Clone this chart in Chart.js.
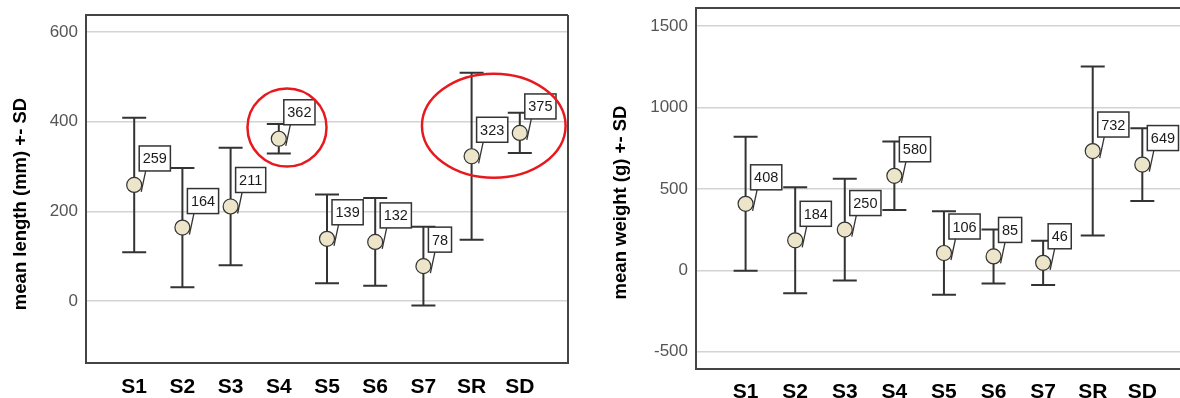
<!DOCTYPE html>
<html>
<head>
<meta charset="utf-8">
<script src="https://cdn.jsdelivr.net/npm/chart.js@4.4.1/dist/chart.umd.min.js"></script>
<style>
html,body{margin:0;padding:0;background:#fff;}
#wrap{position:relative;width:1180px;height:398px;overflow:hidden;}
#wrap canvas{position:absolute;top:0;}
#lengthChart{left:0;}
#weightChart{left:590px;}
</style>
</head>
<body>
<div id="wrap">
  <canvas id="lengthChart" width="590" height="398"></canvas>
  <canvas id="weightChart" width="590" height="398"></canvas>
</div>
<script>
const groups=["S1","S2","S3","S4","S5","S6","S7","SR","SD"];

const lengthMean=[259,164,211,362,139,132,78,323,375];
const lengthSD=[150,133,131,33,99,98,88,186,45];
const lengthTicks=[0,200,400,600];

const weightMean=[408,184,250,580,106,85,46,732,649];
const weightSD=[411,325,312,210,256,166,136,519,223];
const weightTicks=[-500,0,500,1000,1500];

const FONT="'Liberation Sans', Arial, sans-serif";
const INK="#333";

function buildChart(id,cfg){
  const xs=groups.map((g,i)=>i+1);

  // plot frame, error bars and callout leaders go under the points
  const under={
    id:"under",
    beforeDatasetsDraw(chart){
      const {ctx,chartArea:a,scales:{x,y}}=chart;
      ctx.save();
      ctx.strokeStyle="#444";
      ctx.lineWidth=2;
      ctx.beginPath();
      ctx.moveTo(a.right,a.top);
      ctx.lineTo(a.left,a.top);
      ctx.lineTo(a.left,a.bottom);
      ctx.lineTo(a.right,a.bottom);
      if(cfg.closeRight) ctx.lineTo(a.right,a.top);
      ctx.stroke();

      ctx.strokeStyle=INK;
      ctx.lineWidth=2;
      cfg.means.forEach((m,i)=>{
        const px=x.getPixelForValue(xs[i]);
        const hi=y.getPixelForValue(m+cfg.sds[i]);
        const lo=y.getPixelForValue(m-cfg.sds[i]);
        ctx.beginPath();
        ctx.moveTo(px,hi);ctx.lineTo(px,lo);
        ctx.moveTo(px-12,hi);ctx.lineTo(px+12,hi);
        ctx.moveTo(px-12,lo);ctx.lineTo(px+12,lo);
        ctx.stroke();
      });

      ctx.lineWidth=1.3;
      cfg.means.forEach((m,i)=>{
        const px=x.getPixelForValue(xs[i]);
        const py=y.getPixelForValue(m);
        ctx.beginPath();
        ctx.moveTo(px+11.5,py-14);
        ctx.lineTo(px+7,py+7);
        ctx.stroke();
      });
      ctx.restore();
    }
  };

  // value boxes, axis title and highlight rings on top
  const over={
    id:"over",
    afterDatasetsDraw(chart){
      const {ctx,chartArea:a,scales:{x,y}}=chart;
      ctx.save();
      ctx.font="14.5px "+FONT;
      ctx.textAlign="center";
      ctx.textBaseline="middle";
      cfg.means.forEach((m,i)=>{
        const px=x.getPixelForValue(xs[i]);
        const py=y.getPixelForValue(m);
        const txt=String(m);
        const w=ctx.measureText(txt).width+7;
        const h=25;
        const left=px+5, bottom=py-14;
        ctx.fillStyle="#fff";
        ctx.fillRect(left,bottom-h,w,h);
        ctx.strokeStyle=INK;
        ctx.lineWidth=1.5;
        ctx.strokeRect(left,bottom-h,w,h);
        ctx.fillStyle="#1a1a1a";
        ctx.fillText(txt,left+w/2,bottom-h/2+1);
      });

      ctx.translate(cfg.titleX,(a.top+a.bottom)/2+cfg.titleShift);
      ctx.rotate(-Math.PI/2);
      ctx.font="bold 18.5px "+FONT;
      ctx.fillStyle="#000";
      ctx.fillText(cfg.title,0,0);
      ctx.restore();

      ctx.save();
      ctx.strokeStyle="#e8191e";
      ctx.lineWidth=2.5;
      (cfg.rings||[]).forEach(r=>{
        const cx=x.getPixelForValue(r.x), cy=y.getPixelForValue(r.y);
        const rx=Math.abs(x.getPixelForValue(r.x+r.rx)-cx);
        const ry=Math.abs(y.getPixelForValue(r.y+r.ry)-cy);
        ctx.beginPath();
        ctx.ellipse(cx,cy,rx,ry,0,0,Math.PI*2);
        ctx.stroke();
      });
      ctx.restore();
    }
  };

  return new Chart(document.getElementById(id),{
    type:"scatter",
    data:{
      datasets:[{
        data:cfg.means.map((m,i)=>({x:xs[i],y:m})),
        pointRadius:7.5,
        pointHoverRadius:7.5,
        backgroundColor:"#ece5c9",
        borderColor:INK,
        borderWidth:1.2
      }]
    },
    options:{
      responsive:false,
      animation:false,
      events:[],
      layout:{padding:cfg.pad,autoPadding:false},
      plugins:{legend:{display:false},tooltip:{enabled:false}},
      scales:{
        x:{
          type:"linear",
          min:0,
          max:cfg.xMax,
          afterBuildTicks:s=>{s.ticks=xs.map(v=>({value:v}));},
          afterFit:s=>{s.height=cfg.xHeight;s.paddingLeft=0;s.paddingRight=0;},
          grid:{display:false},
          border:{display:false},
          ticks:{
            autoSkip:false,
            maxRotation:0,
            padding:cfg.xPad,
            color:"#000",
            font:{family:FONT,size:21,weight:"bold"},
            callback:v=>groups[v-1]
          }
        },
        y:{
          min:cfg.yMin,
          max:cfg.yMax,
          afterBuildTicks:s=>{s.ticks=cfg.ticks.map(v=>({value:v}));},
          afterFit:s=>{s.width=cfg.axisWidth;s.paddingTop=0;s.paddingBottom=0;},
          grid:{color:"#d3d3d3",lineWidth:1.5,drawTicks:false},
          border:{display:false},
          ticks:{
            padding:8,
            color:"#555",
            font:{family:FONT,size:17},
            callback:v=>String(v)
          }
        }
      }
    },
    plugins:[under,over]
  });
}

buildChart("lengthChart",{
  means:lengthMean,sds:lengthSD,ticks:lengthTicks,
  yMin:-138,yMax:638,xMax:10,
  axisWidth:86,xHeight:35,xPad:4,
  pad:{left:0,right:22,top:15,bottom:0},
  title:"mean length (mm) +- SD",titleX:21,titleShift:15,
  closeRight:true,
  rings:[
    {x:4.17,y:387,rx:0.82,ry:87},
    {x:8.46,y:391,rx:1.49,ry:116}
  ]
});

buildChart("weightChart",{
  means:weightMean,sds:weightSD,ticks:weightTicks,
  yMin:-606,yMax:1610,xMax:9.76,
  axisWidth:106,xHeight:29,xPad:3,
  pad:{left:0,right:0,top:8,bottom:0},
  title:"mean weight (g) +- SD",titleX:31,titleShift:14,
  closeRight:false
});
</script>
</body>
</html>
